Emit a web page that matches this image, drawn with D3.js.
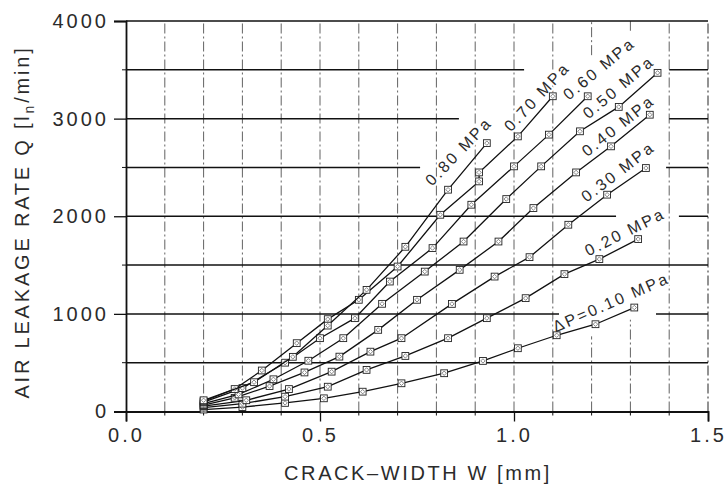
<!DOCTYPE html>
<html>
<head>
<meta charset="utf-8">
<script src="https://cdn.jsdelivr.net/npm/d3@7"></script>
<style>
  body { margin: 0; background: #fff; }
  text { font-family: "Liberation Sans", Arial, sans-serif; fill: #2b2b2b; }
</style>
</head>
<body>
<svg width="726" height="493"></svg>
<script>
// crack width w [mm] and leakage rate Q [ln/min], one pair of arrays per pressure
const w010 = [0.20, 0.30, 0.41, 0.51, 0.61, 0.71, 0.82, 0.92, 1.01, 1.11, 1.21, 1.31];
const q010 = [20, 45, 88, 135, 203, 289, 392, 518, 648, 781, 894, 1065];
const w020 = [0.20, 0.30, 0.41, 0.52, 0.62, 0.72, 0.83, 0.93, 1.03, 1.13, 1.22, 1.32];
const q020 = [40, 80, 152, 254, 426, 569, 751, 956, 1161, 1407, 1561, 1766];
const w030 = [0.20, 0.31, 0.42, 0.53, 0.63, 0.71, 0.84, 0.95, 1.04, 1.14, 1.24, 1.34];
const q030 = [55, 115, 230, 408, 613, 751, 1102, 1382, 1581, 1913, 2221, 2494];
const w040 = [0.20, 0.28, 0.37, 0.46, 0.55, 0.65, 0.75, 0.86, 0.96, 1.05, 1.16, 1.25, 1.35];
const q040 = [65, 140, 260, 400, 562, 836, 1144, 1451, 1741, 2084, 2449, 2716, 3040];
const w050 = [0.20, 0.29, 0.38, 0.47, 0.56, 0.66, 0.77, 0.87, 0.98, 1.07, 1.17, 1.27, 1.37];
const q050 = [80, 175, 330, 520, 751, 1103, 1433, 1741, 2176, 2511, 2870, 3120, 3469];
const w060 = [0.20, 0.30, 0.41, 0.50, 0.59, 0.68, 0.79, 0.89, 1.00, 1.09, 1.19];
const q060 = [95, 240, 500, 751, 956, 1331, 1674, 2118, 2511, 2836, 3229];
const w070 = [0.20, 0.28, 0.35, 0.44, 0.52, 0.60, 0.70, 0.81, 0.91, 0.91, 1.01, 1.10];
const q070 = [105, 230, 420, 700, 946, 1144, 1485, 2015, 2357, 2449, 2818, 3229];
const w080 = [0.20, 0.33, 0.43, 0.52, 0.62, 0.72, 0.83, 0.93];
const q080 = [115, 300, 560, 880, 1246, 1687, 2272, 2749];

const series_labels = ['\u0394P=0.10 MPa', '0.20 MPa', '0.30 MPa', '0.40 MPa', '0.50 MPa', '0.60 MPa', '0.70 MPa', '0.80 MPa'];
const y_ticks = [0, 1000, 2000, 3000, 4000];
const x_ticks = [0.0, 0.5, 1.0, 1.5];

// layout bits (where labels sit, in data units, and their slant)
const label_pos = [[1.250, 1120, 23.6], [1.286, 1840, 26.6], [1.268, 2456, 37.5], [1.268, 2928, 38.5],
                   [1.269, 3323, 40], [1.219, 3513, 39.5], [1.059, 3225, 47], [0.857, 2665, 46]];
// horizontal grid lines are broken where the labels are
const hgrid = [[500, [[0, 1.5]]], [1000, [[0, 1.116], [1.366, 1.5]]], [1500, [[0, 1.5]]],
               [2000, [[0, 1.263], [1.425, 1.5]]], [2500, [[0, 0.758], [1.392, 1.5]]],
               [3000, [[0, 0.858], [1.40, 1.5]]], [3500, [[0, 1.026], [1.40, 1.5]]], [4000, [[0, 1.5]]]];
const vgrid_cut = {12: [[0, 770], [3650, 4000]], 13: [[0, 940], [3900, 4000]]};

const ws = [w010, w020, w030, w040, w050, w060, w070, w080];
const qs = [q010, q020, q030, q040, q050, q060, q070, q080];

var svg = d3.select('svg');
var x = d3.scaleLinear().domain([0, 1.5]).range([126, 708]);
var y = d3.scaleLinear().domain([0, 4000]).range([411.5, 21]);

// vertical dash-dot grid
for (var i = 1; i <= 15; i++) {
    var segs = vgrid_cut[i] || [[0, 4000]];
    segs.forEach(s => {
        svg.append('line')
            .attr('x1', x(i / 10)).attr('x2', x(i / 10))
            .attr('y1', y(s[0])).attr('y2', y(s[1]))
            .attr('stroke', '#3a3a3a').attr('stroke-width', i == 15 ? 1.1 : 0.8)
            .attr('stroke-dasharray', '10,3,2,3');
    });
}

// horizontal solid grid
hgrid.forEach(g => {
    g[1].forEach(s => {
        svg.append('line')
            .attr('x1', x(s[0])).attr('x2', x(s[1]))
            .attr('y1', y(g[0])).attr('y2', y(g[0]))
            .attr('stroke', '#111').attr('stroke-width', 1.5);
    });
});

// axes
var yaxis = svg.append('g').attr('transform', `translate(${x(0)},0)`)
    .call(d3.axisLeft(y).tickValues(y_ticks).tickSize(12).tickPadding(5).tickFormat(d3.format('d')));
var xaxis = svg.append('g').attr('transform', `translate(0,${y(0)})`)
    .call(d3.axisBottom(x).tickValues(x_ticks).tickSize(10).tickPadding(6).tickFormat(d3.format('.1f')));
[yaxis, xaxis].forEach(a => {
    a.select('.domain').attr('stroke', '#111').attr('stroke-width', 1.8);
    a.selectAll('.tick line').attr('stroke', '#111').attr('stroke-width', 1.3);
    a.selectAll('text').attr('font-size', 20).attr('letter-spacing', 3)
        .attr('font-family', '"Liberation Sans", Arial, sans-serif').attr('fill', '#2b2b2b');
});
// minor ticks
svg.append('g').selectAll('line').data(d3.range(1, 15).filter(d => d % 5 != 0)).enter().append('line')
    .attr('x1', d => x(d / 10)).attr('x2', d => x(d / 10))
    .attr('y1', y(0)).attr('y2', y(0) + 4).attr('stroke', '#111');
svg.append('g').selectAll('line').data([500, 1500, 2500, 3500]).enter().append('line')
    .attr('x1', x(0) - 4).attr('x2', x(0))
    .attr('y1', d => y(d)).attr('y2', d => y(d)).attr('stroke', '#111');

// pressure labels (white halo knocks out the grid behind them)
series_labels.forEach((t, k) => {
    var p = label_pos[k];
    svg.append('text')
        .attr('transform', `translate(${x(p[0])},${y(p[1])}) rotate(${-p[2]})`)
        .attr('text-anchor', 'middle').attr('dy', '0.35em')
        .attr('font-size', 16).attr('letter-spacing', 2.4)
        .attr('stroke', '#fff').attr('stroke-width', 4).attr('paint-order', 'stroke')
        .text(t);
});

// curves
var line = d3.line().x(d => x(d[0])).y(d => y(d[1]));
ws.forEach((wv, k) => {
    var pts = wv.map((w, j) => [w, qs[k][j]]);
    svg.append('path').datum(pts).attr('d', line)
        .attr('fill', 'none').attr('stroke', '#111').attr('stroke-width', 1.3);
    var m = svg.append('g').selectAll('g').data(pts).enter().append('g')
        .attr('transform', d => `translate(${x(d[0])},${y(d[1])})`);
    m.append('rect').attr('x', -3.4).attr('y', -3.4).attr('width', 6.8).attr('height', 6.8)
        .attr('fill', '#fff').attr('stroke', '#222').attr('stroke-width', 0.9);
    m.append('path').attr('d', 'M0,-2.2L2.2,0L0,2.2L-2.2,0Z')
        .attr('fill', 'none').attr('stroke', '#555').attr('stroke-width', 0.7);
});

// axis titles
svg.append('text').attr('x', 418).attr('y', 480).attr('text-anchor', 'middle')
    .attr('font-size', 20).attr('letter-spacing', 2.6)
    .text('CRACK\u2013WIDTH W [mm]');

var yl = svg.append('text').attr('transform', 'translate(29,222) rotate(-90)')
    .attr('text-anchor', 'middle').attr('font-size', 20).attr('letter-spacing', 2.8);
yl.append('tspan').text('AIR LEAKAGE RATE Q [l');
yl.append('tspan').attr('font-size', 14).attr('dy', 5).text('n');
yl.append('tspan').attr('dy', -5).text('/min]');
</script>
</body>
</html>
